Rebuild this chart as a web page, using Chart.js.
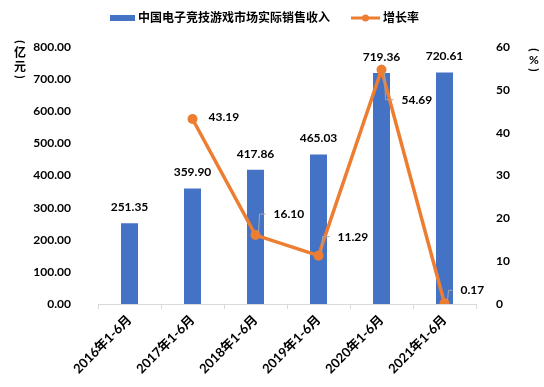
<!DOCTYPE html>
<html>
<head>
<meta charset="utf-8">
<script src="https://cdn.jsdelivr.net/npm/chart.js@4"></script>
<style>
  html, body { margin: 0; padding: 0; background: #fff; }
  #wrap { width: 544px; height: 387px; }
</style>
</head>
<body>
<div id="wrap"><canvas id="chart"></canvas></div>
<script>
// data
const periods = ['2016年1-6月', '2017年1-6月', '2018年1-6月', '2019年1-6月', '2020年1-6月', '2021年1-6月'];
const revenue = [251.35, 359.90, 417.86, 465.03, 719.36, 720.61];
const growth = [null, 43.19, 16.10, 11.29, 54.69, 0.17];
const revenueLabel = '中国电子竞技游戏市场实际销售收入';
const growthLabel = '增长率';

// where each growth label sits relative to its point (px), and whether it has a leader line
const growthLabelOffset = [null, [16, -2, false], [18, -21, true], [19, -19, true], [20, 30, true], [16, -13, true]];

const FONT = 'Lato, "Noto Sans CJK SC", "Noto Sans", sans-serif';
const BLUE = '#4472C4';
const ORANGE = '#ED7D31';

// draws a character turned a quarter turn (used for the vertical brackets)
function turned(ctx, ch, x, y) {
  ctx.save();
  ctx.translate(x, y);
  ctx.rotate(Math.PI / 2);
  ctx.fillText(ch, 0, 0);
  ctx.restore();
}

const labelsPlugin = {
  id: 'labels',
  afterDatasetsDraw(chart) {
    const ctx = chart.ctx;
    ctx.save();
    ctx.font = 'bold 12px ' + FONT;
    ctx.fillStyle = '#000';
    ctx.textBaseline = 'middle';

    // bar values
    ctx.textAlign = 'center';
    chart.getDatasetMeta(0).data.forEach((bar, i) => {
      ctx.fillText(revenue[i].toFixed(2), bar.x, bar.y - 16);
    });

    // growth values
    ctx.textAlign = 'left';
    chart.getDatasetMeta(1).data.forEach((pt, i) => {
      if (growth[i] == null) return;
      const [dx, dy, leader] = growthLabelOffset[i];
      const lx = pt.x + dx, ly = pt.y + dy;
      if (leader) {
        ctx.strokeStyle = '#a6a6a6';
        ctx.lineWidth = 1;
        ctx.beginPath();
        ctx.moveTo(pt.x + 3, pt.y + (dy > 0 ? 3 : -3));
        ctx.lineTo(pt.x + 4, ly);
        ctx.lineTo(lx - 8, ly);
        ctx.stroke();
      }
      ctx.fillText(growth[i].toFixed(2), lx, ly);
    });
    ctx.restore();
  },
  afterDraw(chart) {
    const ctx = chart.ctx;
    ctx.save();
    ctx.font = 'bold 12px ' + FONT;
    ctx.fillStyle = '#000';
    ctx.textBaseline = 'middle';
    ctx.textAlign = 'left';

    // legend
    ctx.fillStyle = BLUE;
    ctx.fillRect(110, 15, 25, 6);
    ctx.fillStyle = '#000';
    ctx.fillText(revenueLabel, 138, 18);
    ctx.strokeStyle = ORANGE;
    ctx.lineWidth = 3;
    ctx.beginPath();
    ctx.moveTo(351, 18);
    ctx.lineTo(380, 18);
    ctx.stroke();
    ctx.fillStyle = ORANGE;
    ctx.beginPath();
    ctx.arc(365.5, 18, 3.5, 0, Math.PI * 2);
    ctx.fill();
    ctx.fillStyle = '#000';
    ctx.fillText(growthLabel, 383, 18);

    // vertical axis titles
    ctx.textAlign = 'center';
    turned(ctx, '(', 20, 42);
    ctx.fillText('亿', 20, 53);
    ctx.fillText('元', 20, 67);
    turned(ctx, ')', 20, 77);
    turned(ctx, '(', 534, 50);
    ctx.fillText('%', 534, 60);
    turned(ctx, ')', 534, 70);
    ctx.restore();
  }
};

new Chart(document.getElementById('chart'), {
  type: 'bar',
  data: {
    labels: periods,
    datasets: [
      {
        label: revenueLabel,
        data: revenue,
        backgroundColor: BLUE,
        categoryPercentage: 1,
        barPercentage: 0.27,
        yAxisID: 'y',
        order: 1
      },
      {
        type: 'line',
        label: growthLabel,
        data: growth,
        borderColor: ORANGE,
        backgroundColor: ORANGE,
        borderWidth: 3.5,
        pointRadius: 5,
        pointBackgroundColor: ORANGE,
        pointBorderWidth: 0,
        tension: 0,
        yAxisID: 'y1',
        order: 0
      }
    ]
  },
  options: {
    responsive: true,
    maintainAspectRatio: false,
    animation: false,
    layout: { padding: { top: 47, left: 0, right: 0, bottom: 0 } },
    plugins: {
      legend: { display: false },
      tooltip: { enabled: false }
    },
    scales: {
      x: {
        offset: true,
        grid: { offset: true, drawOnChartArea: false, tickLength: 5, color: '#d9d9d9' },
        border: { color: '#d9d9d9' },
        ticks: {
          maxRotation: 45, minRotation: 45, color: '#000', padding: 3,
          font: { family: FONT, size: 13, weight: 'bold' }
        },
        afterFit(scale) { scale.height = 83; }
      },
      y: {
        position: 'left',
        min: 0, max: 800,
        grid: { display: false },
        border: { display: false },
        ticks: {
          stepSize: 100, color: '#000', padding: 19,
          font: { family: FONT, size: 12, weight: 'bold' },
          callback: v => v.toFixed(2)
        },
        afterFit(scale) { scale.width = 98; }
      },
      y1: {
        position: 'right',
        min: 0, max: 60,
        grid: { display: false },
        border: { display: false },
        ticks: {
          stepSize: 10, color: '#000', padding: 12,
          font: { family: FONT, size: 12, weight: 'bold' }
        },
        afterFit(scale) { scale.width = 68; }
      }
    }
  },
  plugins: [labelsPlugin]
});
</script>
</body>
</html>
